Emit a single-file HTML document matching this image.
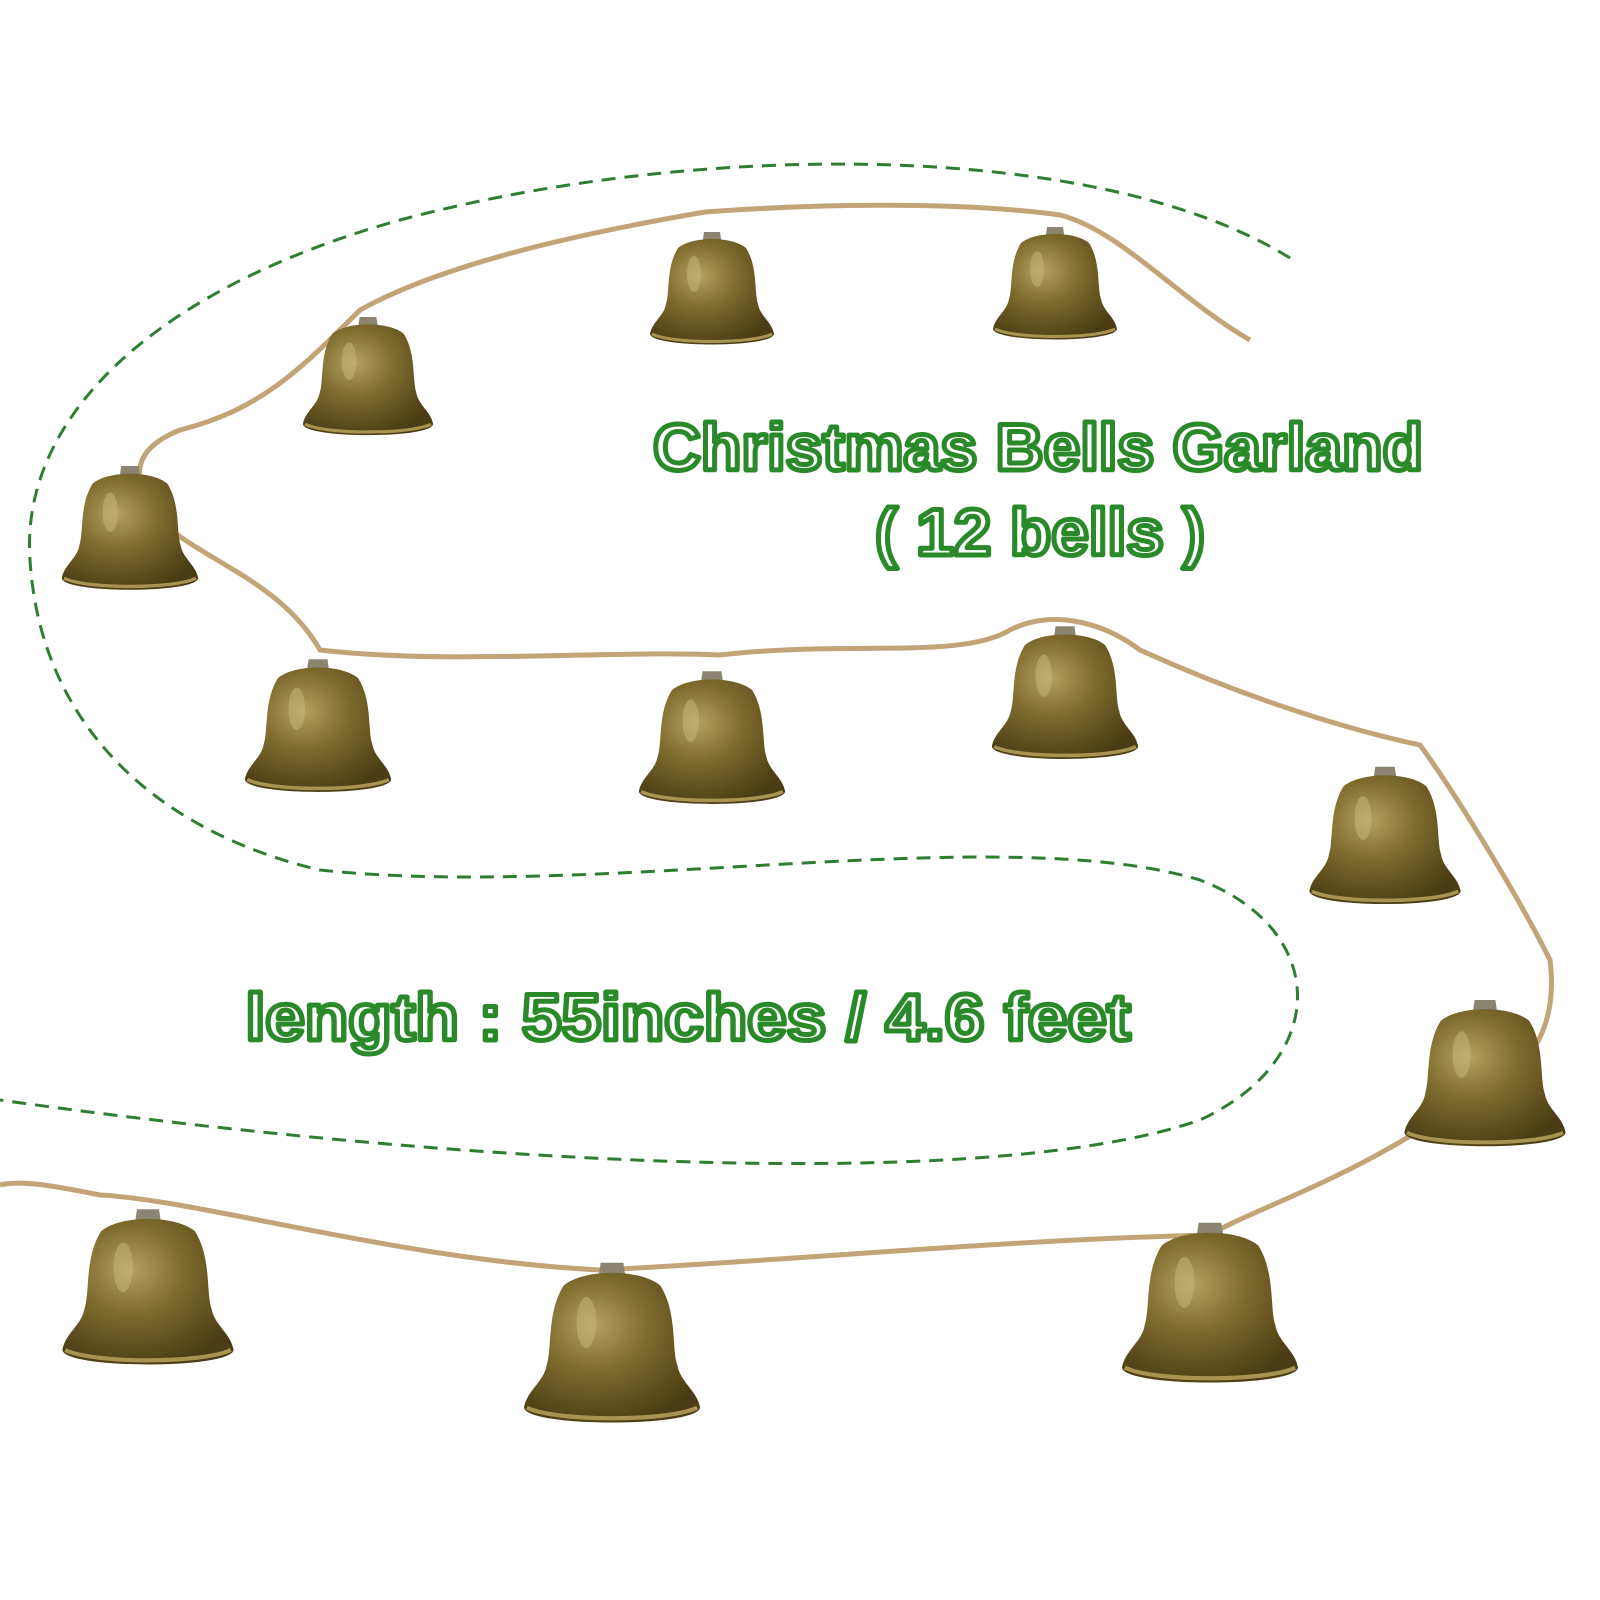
<!DOCTYPE html>
<html><head><meta charset="utf-8"><style>html,body{margin:0;padding:0;background:#fff}svg{display:block}</style></head>
<body>
<svg width="1600" height="1600" viewBox="0 0 1600 1600" xmlns="http://www.w3.org/2000/svg">
<defs>
<radialGradient id="bg" cx="0.4" cy="0.35" r="0.7">
<stop offset="0" stop-color="#b5a060"/><stop offset="0.45" stop-color="#7d6a2c"/><stop offset="1" stop-color="#4a3c14"/>
</radialGradient>
<g id="bell">
<path d="M-8,-60 L8,-60 L10,-46 L-10,-46 Z" fill="#8a8470"/>
<path d="M-34,-44 C-20,-56 20,-56 34,-44 C46,-25 42,0 46,12 C48,24 60,30 62,42 C60,56 -60,56 -62,42 C-60,30 -48,24 -46,12 C-42,0 -46,-25 -34,-44 Z" fill="url(#bg)"/>
<path d="M-60,42 C-40,52 40,52 60,42" stroke="#a89450" stroke-width="3" fill="none"/>
<ellipse cx="-18" cy="-18" rx="7" ry="18" fill="#c9b880" opacity="0.5"/>
</g>
</defs>
<path d="M1290,258 C1100,140 700,140 400,220 C150,290 20,420 30,560 C40,720 150,830 320,870 C600,900 1000,820 1200,880 C1330,930 1330,1060 1200,1120 C1000,1190 500,1170 0,1100" stroke="#2e7d32" stroke-width="3" stroke-dasharray="14,9" fill="none"/>
<path d="M1250,340 C1180,300 1120,230 1060,215 C950,200 800,205 705,212 C600,230 450,260 360,310 C300,370 260,410 180,430 C130,450 130,480 160,520 C200,560 280,580 320,650 C450,665 600,650 720,655 C850,640 960,660 1010,630 C1050,610 1100,620 1140,650 C1250,700 1350,730 1420,745 C1460,800 1520,900 1550,960 C1560,1040 1520,1080 1450,1110 C1350,1180 1250,1210 1210,1235 C1000,1240 800,1260 600,1270 C400,1260 200,1200 100,1195 C50,1185 20,1180 0,1185" stroke="#c2a477" stroke-width="5" fill="none"/>
<g>
<use href="#bell" transform="translate(712,292) scale(1.0)"/>
<use href="#bell" transform="translate(1055,287) scale(1.0)"/>
<use href="#bell" transform="translate(368,380) scale(1.05)"/>
<use href="#bell" transform="translate(130,532) scale(1.1)"/>
<use href="#bell" transform="translate(318,730) scale(1.18)"/>
<use href="#bell" transform="translate(712,742) scale(1.18)"/>
<use href="#bell" transform="translate(1065,697) scale(1.18)"/>
<use href="#bell" transform="translate(1385,840) scale(1.22)"/>
<use href="#bell" transform="translate(1485,1078) scale(1.3)"/>
<use href="#bell" transform="translate(148,1292) scale(1.38)"/>
<use href="#bell" transform="translate(612,1348) scale(1.42)"/>
<use href="#bell" transform="translate(1210,1308) scale(1.42)"/>
</g>
<g font-family="Liberation Sans, sans-serif" font-weight="bold" fill="#fff" stroke="#2a8a2a" stroke-width="5" stroke-linejoin="round">
<text x="1038" y="470" font-size="66" text-anchor="middle" textLength="770" lengthAdjust="spacingAndGlyphs">Christmas Bells Garland</text>
<text x="1040" y="555" font-size="66" text-anchor="middle" textLength="330" lengthAdjust="spacingAndGlyphs">( 12 bells )</text>
<text x="688" y="1040" font-size="66" text-anchor="middle" textLength="885" lengthAdjust="spacingAndGlyphs">length :  55inches / 4.6 feet</text>
</g>
</svg>
</body></html>
